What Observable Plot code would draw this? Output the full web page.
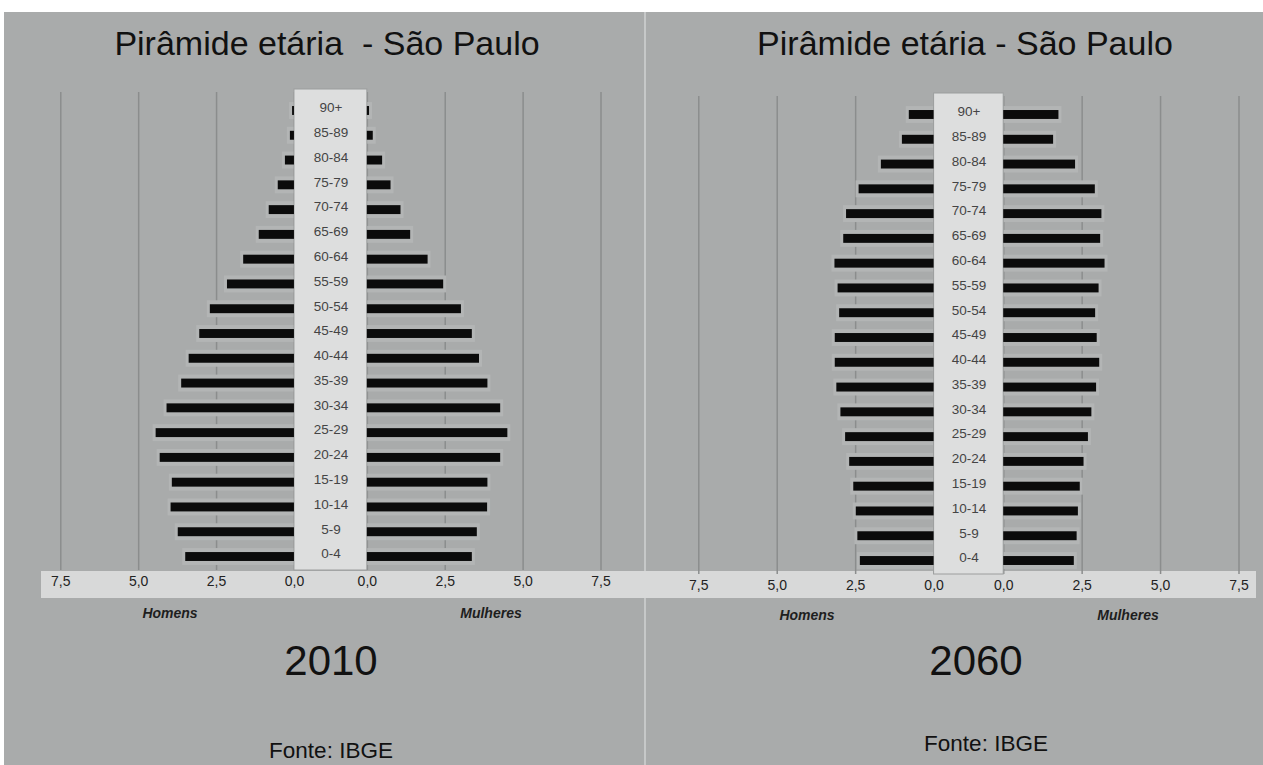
<!DOCTYPE html>
<html>
<head>
<meta charset="utf-8">
<script src="https://cdn.jsdelivr.net/npm/d3@7"></script>
<script src="https://cdn.jsdelivr.net/npm/@observablehq/plot@0.6"></script>
<style>
  html, body { margin: 0; padding: 0; background: #ffffff; }
  body { width: 1263px; height: 765px; position: relative; overflow: hidden; font-family: "Liberation Sans", Arial, sans-serif; }
  #bg { position: absolute; left: 4px; top: 12px; width: 1259px; height: 753px; background: #a9abab; }
  #divider { position: absolute; left: 644px; top: 12px; width: 2px; height: 753px; background: #c6c8c8; }
  #band { position: absolute; left: 41px; top: 571px; width: 1215px; height: 27px; background: #d8d9d9; }
  .t { position: absolute; line-height: 1; white-space: pre; color: #111; transform: translateX(-50%); }
  .title { font-size: 34px; }
  .year { font-size: 42px; }
  .src { font-size: 22.5px; }
  .sex { font-size: 14px; font-style: italic; font-weight: bold; color: #1e1e1e; }
  .plot { position: absolute; }
  .plot svg { max-width: none !important; }
</style>
</head>
<body>
<div id="bg"></div>
<div id="divider"></div>
<div id="band"></div>

<div class="t title" style="left:327px; top:26px;">Pirâmide etária  - São Paulo</div>
<div class="t title" style="left:965px; top:26px;">Pirâmide etária - São Paulo</div>

<div class="t sex" style="left:170px; top:606px;">Homens</div>
<div class="t sex" style="left:491px; top:606px;">Mulheres</div>
<div class="t sex" style="left:807px; top:608px;">Homens</div>
<div class="t sex" style="left:1128px; top:608px;">Mulheres</div>

<div class="t year" style="left:331px; top:640px;">2010</div>
<div class="t year" style="left:976px; top:640px;">2060</div>

<div class="t src" style="left:331px; top:740px;">Fonte: IBGE</div>
<div class="t src" style="left:986px; top:733px;">Fonte: IBGE</div>

<div id="p2010" class="plot" style="left:40px; top:80px;"></div>
<div id="p2060" class="plot" style="left:678px; top:84px;"></div>

<script>
// ---- Data (percent of population by age group) ----
const ageGroups = ["0-4", "5-9", "10-14", "15-19", "20-24", "25-29", "30-34", "35-39", "40-44",
  "45-49", "50-54", "55-59", "60-64", "65-69", "70-74", "75-79", "80-84", "85-89", "90+"];

const men2010 = [3.49, 3.73, 3.96, 3.92, 4.31, 4.44, 4.09, 3.62, 3.38, 3.04, 2.70, 2.15, 1.63, 1.13, 0.81, 0.52, 0.29, 0.13, 0.06];
const women2010 = [3.37, 3.53, 3.86, 3.87, 4.28, 4.51, 4.28, 3.87, 3.60, 3.37, 3.02, 2.45, 1.95, 1.39, 1.08, 0.76, 0.49, 0.19, 0.07];

const men2060 = [2.35, 2.43, 2.48, 2.56, 2.69, 2.82, 2.97, 3.10, 3.15, 3.15, 3.01, 3.06, 3.16, 2.88, 2.79, 2.39, 1.68, 1.01, 0.79];
const women2060 = [2.25, 2.34, 2.38, 2.44, 2.56, 2.70, 2.81, 2.96, 3.06, 2.98, 2.93, 3.04, 3.23, 3.09, 3.13, 2.92, 2.29, 1.59, 1.76];

const tickValues = [0, 2.5, 5, 7.5];
const xMax = 7.5;

function pyramid(men, women, c) {
  // c: half-width of the central label column, in value units
  const rowsM = ageGroups.map((age, i) => ({age, v: men[i]}));
  const rowsW = ageGroups.map((age, i) => ({age, v: women[i]}));
  const tickPos = [...tickValues.map(v => -(v + c)), ...tickValues.map(v => v + c)];
  const fmt = t => (Math.round((Math.abs(t) - c) * 10) / 10).toFixed(1).replace(".", ",");
  return Plot.plot({
    width: 580,
    height: 530,
    marginTop: 12,
    marginBottom: 40,
    marginLeft: 20,
    marginRight: 19,
    x: {domain: [-(xMax + c), xMax + c], range: [20.3, 560.5], ticks: tickPos, tickFormat: fmt,
        tickSize: 0, tickPadding: 6, label: null},
    y: {domain: ageGroups.slice().reverse(), range: [18.1, 488.9], paddingInner: 0.64, paddingOuter: 0.32,
        round: false, axis: null},
    style: {background: "transparent", color: "#222", fontSize: "14px",
            fontFamily: "'Liberation Sans', Arial, sans-serif", overflow: "visible"},
    marks: [
      Plot.ruleX(tickPos, {stroke: "#8b8d8d", strokeWidth: 1.5}),
      // soft halo behind bars
      Plot.barX(rowsM, {y: "age", x1: -c, x2: d => -(d.v + c), fill: "#b3b5b5",
                        insetTop: -4, insetBottom: -4, insetLeft: -3}),
      Plot.barX(rowsW, {y: "age", x1: c, x2: d => d.v + c, fill: "#b3b5b5",
                        insetTop: -4, insetBottom: -4, insetRight: -3}),
      // central label column
      Plot.barX([0], {x1: -c, x2: c, fill: "#dddede", stroke: "#9c9e9e", strokeWidth: 1, insetTop: -3}),
      Plot.barX(rowsM, {y: "age", x1: -c, x2: d => -(d.v + c), fill: "#0b0b0b"}),
      Plot.barX(rowsW, {y: "age", x1: c, x2: d => d.v + c, fill: "#0b0b0b"}),
      Plot.text(ageGroups, {x: 0, y: d => d, text: d => d, dy: -3, fontSize: 13.5, fill: "#444"})
    ]
  });
}

document.getElementById("p2010").append(pyramid(men2010, women2010, 1.17));
document.getElementById("p2060").append(pyramid(men2060, women2060, 1.11));
</script>
</body>
</html>
